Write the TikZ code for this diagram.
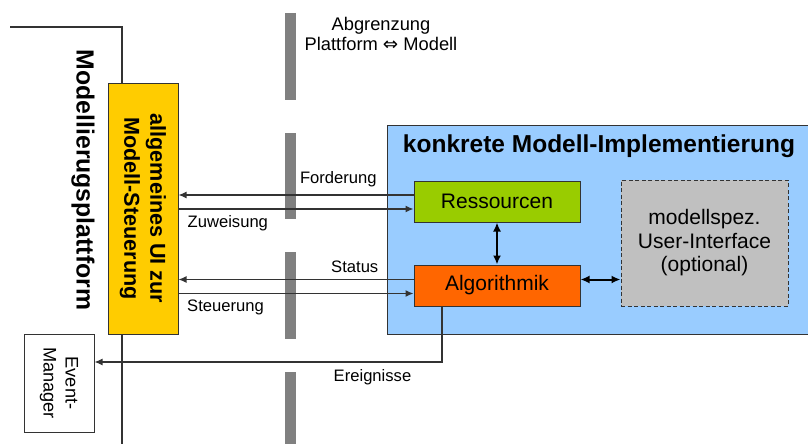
\documentclass[tikz,border=0pt]{standalone}
\usepackage{fontspec}
\setmainfont{Liberation Sans}
\newfontfamily\pfeilfont{DejaVu Sans}
\usetikzlibrary{positioning,arrows.meta}

\definecolor{linie}{HTML}{333333}
\definecolor{uigelb}{HTML}{FFCC00}
\definecolor{ressgruen}{HTML}{99CC00}
\definecolor{algorot}{HTML}{FF6600}
\definecolor{uigrau}{HTML}{C0C0C0}
\definecolor{implblau}{HTML}{99CCFF}
\definecolor{grenzgrau}{HTML}{808080}

\begin{document}
\begin{tikzpicture}[
                        x=1pt, y=-1pt,
                        >={Latex[length=8pt,width=7pt]},
                        every node/.style={inner sep=0pt},
                        block/.style={rectangle, draw=linie, line width=1pt, minimum width=166pt, minimum height=41pt, font=\fontsize{21}{24}\selectfont},
                        signal/.style={->, draw=linie, line width=1.2pt},
                        doppel/.style={{Latex[length=9pt,width=8pt]}-{Latex[length=9pt,width=8pt]}, draw=black, line width=2pt},
                        sigtext/.style={font=\fontsize{16.6}{19}\selectfont},
                        grenze/.style={draw=grenzgrau, line width=11pt}
                    ]
                    \useasboundingbox (0,0) rectangle (808,444);
                    \clip (0,0) rectangle (808,444);

                    % Plattform
                    \draw [linie, line width=1.2pt] (10,27) -| (122,450);
                    \node [rotate=-90, font=\bfseries\fontsize{24.8}{28}\selectfont] (plattform) at (83,180) {Modellierugsplattform};
                    \node [rectangle, draw=linie, line width=1pt, fill=uigelb, rotate=-90, minimum width=251pt, minimum height=70pt, align=center, font=\bfseries\fontsize{21.6}{26}\selectfont] (ui) at (143,208.5) {allgemeines UI zur\\Modell-Steuerung};
                    \node [rectangle, draw=linie, line width=1pt, fill=white, rotate=-90, minimum width=98pt, minimum height=70pt, align=center, font=\fontsize{18.2}{22}\selectfont] (em) at (59,383) {Event-\\Manager};

                    % Abgrenzung
                    \foreach \von/\bis in {13/100, 133/219, 252/339, 372/450}
                        \draw [grenze] (290,\von) -- (290,\bis);
                    \node [align=center, font=\fontsize{18.3}{20}\selectfont] (abgr) at (381,34) {Abgrenzung\\Plattform {\pfeilfont ⇔} Modell};

                    % Blocks
                    \node [rectangle, draw=linie, line width=1pt, fill=implblau, minimum width=430pt, minimum height=209pt, anchor=north west] (impl) at (387,125) {};
                    \node [font=\bfseries\fontsize{24.5}{28}\selectfont] (impltitel) at (599,146) {konkrete Modell-Implementierung};
                    \node [block, fill=ressgruen] (ress) at (497,201.5) {Ressourcen};
                    \node [block, fill=algorot, below=42pt of ress] (alg) {Algorithmik};
                    \node [block, fill=uigrau, dash pattern=on 4pt off 2.5pt, minimum width=167pt, minimum height=126pt, align=center, font=\fontsize{21}{23.5}\selectfont] (uif) at (704.5,243) {modellspez.\\User-Interface\\(optional)};

                    % Connections
                    \draw [signal] ([yshift=6.5pt]ress.west) -- ([yshift=6.5pt]ress.west -| ui.north) node[sigtext, pos=0.32, above=7pt]{Forderung};
                    \draw [signal] ([yshift=-7.5pt]ress.west -| ui.north) -- ([yshift=-7.5pt]ress.west) node[sigtext, pos=0.21, below=6pt]{Zuweisung};
                    \draw [signal] ([yshift=6pt]alg.west) -- ([yshift=6pt]alg.west -| ui.north) node[sigtext, pos=0.25, above=6pt]{Status};
                    \draw [signal] ([yshift=-8pt]alg.west -| ui.north) -- ([yshift=-8pt]alg.west) node[sigtext, pos=0.2, below=6pt]{Steuerung};
                    \draw [signal] ([xshift=-55pt]alg.south) |- ([yshift=21pt]em.north) node[sigtext, pos=0.6, below=7pt]{Ereignisse};
                    \draw [doppel] (ress) -- (alg);
                    \draw [doppel] ([yshift=6pt]alg.east) -- ([yshift=6pt]alg.east -| uif.west);
                \end{tikzpicture}
\end{document}
